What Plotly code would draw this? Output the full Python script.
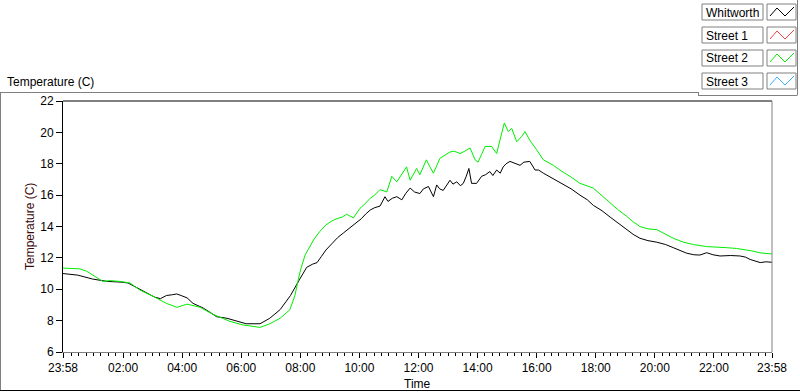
import plotly.graph_objects as go

# ---------------- data ----------------
# hours elapsed since 23:58 (start of record)
whit_t = [0.0, 0.5, 1.0, 1.5, 2.0, 2.2, 2.5, 2.85, 3.1, 3.3, 3.5, 3.7, 3.85, 4.0, 4.2, 4.4, 4.75, 5.0, 5.2, 5.55,
          5.9, 6.2, 6.67, 7.0, 7.35, 7.7, 8.0, 8.25, 8.45, 8.6, 8.75, 8.9, 9.1, 9.3, 9.5, 9.7, 9.9, 10.1, 10.25,
          10.4, 10.55, 10.73, 10.9, 11.0, 11.15, 11.3, 11.47, 11.6, 11.75, 11.9, 12.08, 12.2, 12.37, 12.54, 12.65,
          12.75, 12.87, 13.0, 13.1, 13.2, 13.33, 13.45, 13.55, 13.65, 13.74, 13.83, 14.0, 14.17, 14.3, 14.45,
          14.55, 14.68, 14.8, 14.9, 15.0, 15.13, 15.3, 15.47, 15.6, 15.8, 15.98, 16.1, 16.26, 16.45, 16.6, 16.82,
          17.2, 17.5, 17.75, 17.95, 18.25, 18.52, 18.8, 19.08, 19.3, 19.53, 19.8, 20.1, 20.4, 20.66, 20.9, 21.11,
          21.35, 21.56, 21.79, 22.0, 22.24, 22.6, 22.92, 23.1, 23.26, 23.45, 23.6, 23.8, 24.0]
whit_v = [11.0, 10.9, 10.65, 10.5, 10.45, 10.4, 10.1, 9.75, 9.5, 9.4, 9.6, 9.65, 9.7, 9.6, 9.45, 9.1, 8.8, 8.5, 8.25,
          8.15, 7.95, 7.8, 7.8, 8.15, 8.7, 9.6, 10.6, 11.4, 11.6, 11.7, 12.1, 12.5, 12.9, 13.3, 13.6, 13.9, 14.2,
          14.5, 14.8, 15.05, 15.2, 15.3, 15.9, 15.6, 15.8, 15.9, 15.7, 16.1, 16.45, 16.2, 16.1, 16.4, 16.55, 15.9,
          16.65, 16.4, 16.3, 16.7, 16.95, 16.7, 16.85, 16.6, 16.75, 17.2, 17.7, 16.75, 16.75, 17.2, 17.3, 17.5,
          17.25, 17.6, 17.4, 17.8, 18.0, 18.15, 18.0, 17.9, 18.1, 18.15, 17.6, 17.6, 17.4, 17.2, 17.05, 16.85,
          16.4, 16.0, 15.7, 15.35, 15.0, 14.6, 14.2, 13.8, 13.5, 13.25, 13.1, 13.0, 12.85, 12.65, 12.45, 12.3,
          12.2, 12.18, 12.33, 12.2, 12.12, 12.15, 12.12, 12.05, 11.9, 11.8, 11.7, 11.75, 11.72]

st2_t = [0.0, 0.57, 0.8, 1.0, 1.2, 1.35, 1.6, 1.93, 2.27, 2.6, 3.05, 3.5, 3.86, 4.2, 4.64, 5.08, 5.4, 5.65, 6.1, 6.67,
         7.0, 7.35, 7.68, 7.85, 7.95, 8.05, 8.2, 8.35, 8.5, 8.7, 8.9, 9.1, 9.27, 9.45, 9.6, 9.83, 10.05, 10.25, 10.4,
         10.55, 10.73, 10.96, 11.13, 11.3, 11.45, 11.63, 11.75, 11.97, 12.08, 12.3, 12.42, 12.54, 12.76, 12.9, 13.1,
         13.25, 13.44, 13.6, 13.78, 13.95, 14.05, 14.17, 14.29, 14.51, 14.68, 14.85, 14.94, 15.07, 15.19, 15.36,
         15.53, 15.64, 15.8, 16.03, 16.26, 16.6, 16.82, 17.2, 17.5, 17.95, 18.25, 18.52, 18.8, 19.08, 19.3, 19.53,
         19.8, 20.1, 20.4, 20.66, 21.0, 21.34, 21.79, 22.1, 22.47, 22.8, 23.03, 23.3, 23.6, 24.0]
st2_v = [11.35, 11.3, 11.15, 10.9, 10.65, 10.5, 10.55, 10.5, 10.4, 9.95, 9.55, 9.1, 8.85, 9.05, 8.85, 8.4, 8.15, 7.95,
         7.72, 7.57, 7.8, 8.15, 8.7, 9.6, 10.5, 11.3, 12.2, 12.7, 13.2, 13.7, 14.1, 14.35, 14.5, 14.6, 14.78, 14.55,
         15.15, 15.5, 15.8, 16.0, 16.35, 16.2, 17.2, 16.85, 17.3, 17.8, 16.95, 17.7, 17.3, 18.25, 17.8, 17.4, 18.35,
         18.5, 18.75, 18.8, 18.65, 18.8, 19.0, 18.25, 18.1, 18.6, 19.1, 19.1, 18.65, 19.95, 20.6, 20.05, 20.25,
         19.4, 19.75, 20.05, 19.5, 18.9, 18.25, 17.9, 17.6, 17.15, 16.75, 16.45, 15.95, 15.5, 15.05, 14.65, 14.3,
         14.0, 13.85, 13.8, 13.5, 13.25, 13.0, 12.85, 12.72, 12.7, 12.65, 12.6, 12.55, 12.45, 12.32, 12.25]

x_tick_vals = [0, 2.0333, 4.0333, 6.0333, 8.0333, 10.0333, 12.0333, 14.0333, 16.0333, 18.0333, 20.0333, 22.0333, 24]
x_tick_text = ["23:58", "02:00", "04:00", "06:00", "08:00", "10:00", "12:00", "14:00", "16:00", "18:00",
               "20:00", "22:00", "23:58"]
y_tick_vals = [6, 8, 10, 12, 14, 16, 18, 20, 22]

legend_names = ["Whitworth", "Street 1", "Street 2", "Street 3"]
legend_colors = ["#000000", "#ff4040", "#00ee00", "#33b4ff"]

# ---------------- layout geometry (pixels) ----------------
W, H = 800, 392
L, R, T, B = 63, 772, 101, 352
FONT = "Liberation Sans"


def px(x):
    return (x - L) / (R - L)


def py(y):
    return (B - y) / (B - T)


fig = go.Figure()
fig.add_trace(go.Scatter(x=whit_t, y=whit_v, mode="lines", line=dict(color=legend_colors[0], width=1),
                         name=legend_names[0], showlegend=False, hoverinfo="skip"))
fig.add_trace(go.Scatter(x=st2_t, y=st2_v, mode="lines", line=dict(color=legend_colors[2], width=1),
                         name=legend_names[2], showlegend=False, hoverinfo="skip"))

shapes = []
annotations = []
GRAY = "#808080"


def line(x0, y0, x1, y1, color, w=1):
    shapes.append(dict(type="line", xref="paper", yref="paper", x0=px(x0), y0=py(y0), x1=px(x1), y1=py(y1),
                       line=dict(color=color, width=w)))


# plot frame top (black) and right (gray)
line(L, T, R, T, "#000000")
line(R, T, R, B, GRAY)
# outer panel
line(0, 92.5, 698, 92.5, GRAY)
line(0.5, 92, 0.5, 390, GRAY)
line(0, 390.5, 800, 390.5, "#000000")
# legend panel
line(698.5, 92, 698.5, 95.5, GRAY)
line(698, 95.5, 797, 95.5, GRAY)
line(797.5, 0, 797.5, 95.5, GRAY)

# legend entries
row_tops = [4, 27, 50, 73]
for name, color, top in zip(legend_names, legend_colors, row_tops):
    shapes.append(dict(type="rect", xref="paper", yref="paper", x0=px(702), x1=px(763), y0=py(top + 16),
                       y1=py(top), line=dict(color=GRAY, width=1), fillcolor="white"))
    shapes.append(dict(type="rect", xref="paper", yref="paper", x0=px(767), x1=px(796), y0=py(top + 16),
                       y1=py(top), line=dict(color=GRAY, width=1), fillcolor="white"))
    zig = [(770, top + 12), (777, top + 4), (785, top + 12), (794, top + 3)]
    path = "M " + " L ".join(f"{px(a)},{py(b)}" for a, b in zig)
    shapes.append(dict(type="path", xref="paper", yref="paper", path=path, line=dict(color=color, width=1)))
    annotations.append(dict(xref="paper", yref="paper", x=px(704), y=py(top + 8.5), text=name, showarrow=False,
                            xanchor="left", yanchor="middle", font=dict(family=FONT, size=12, color="#000000")))

annotations.append(dict(xref="paper", yref="paper", x=px(5), y=py(82), text="Temperature (C)", showarrow=False,
                        xanchor="left", yanchor="middle", font=dict(family=FONT, size=12, color="#000000")))
annotations.append(dict(xref="paper", yref="paper", x=px(30), y=py(227), text="Temperature (C)", showarrow=False,
                        textangle=-90, xanchor="center", yanchor="middle",
                        font=dict(family=FONT, size=12, color="#3a0a0a")))
annotations.append(dict(xref="paper", yref="paper", x=px(417), y=py(384), text="Time", showarrow=False,
                        xanchor="center", yanchor="middle", font=dict(family=FONT, size=12, color="#000000")))

fig.update_layout(
    width=W, height=H,
    margin=dict(l=L, r=W - R, t=T, b=H - B, pad=0),
    paper_bgcolor="white", plot_bgcolor="white",
    shapes=shapes, annotations=annotations,
    showlegend=False,
    font=dict(family=FONT, size=12, color="#000000"),
)
fig.update_xaxes(range=[0, 24], tickmode="array", tickvals=x_tick_vals, ticktext=x_tick_text,
                 showgrid=False, zeroline=False, showline=True, linecolor=GRAY, linewidth=1,
                 ticks="outside", ticklen=5, tickcolor="#000000", tickwidth=1,
                 tickfont=dict(family=FONT, size=12, color="#000000"),
                 minor=dict(tick0=0.0333, dtick=0.25, ticks="outside", ticklen=3, tickcolor="#000000",
                            showgrid=False))
fig.update_yaxes(range=[6, 22], tickmode="array", tickvals=y_tick_vals,
                 showgrid=False, zeroline=False, showline=True, linecolor="#000000", linewidth=1,
                 ticks="outside", ticklen=6, tickcolor="#000000", tickwidth=1,
                 tickfont=dict(family=FONT, size=12, color="#000000"))

fig.write_html("out.html", config={"displayModeBar": False},
               post_script="document.body.style.margin='0px';document.body.style.overflow='hidden';")
